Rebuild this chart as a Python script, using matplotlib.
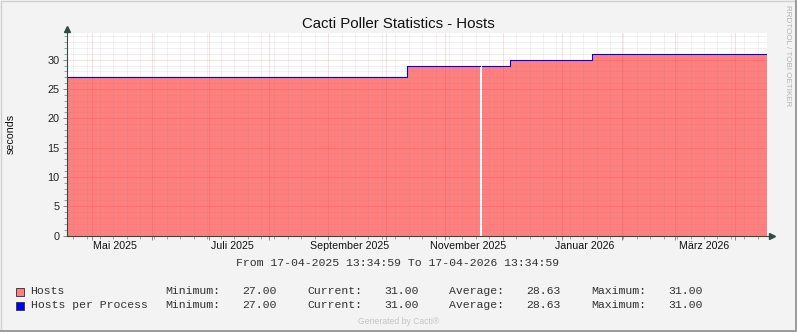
import numpy as np
import pandas as pd
import matplotlib
matplotlib.use("Agg")
import matplotlib.pyplot as plt
import matplotlib.dates as mdates
from matplotlib.patches import Rectangle
from matplotlib.ticker import MultipleLocator

# poller data, one value per interval between consecutive edges
edges = ["2025-04-17 13:34:59", "2025-10-12 00:00:00", "2025-11-19 00:00:00",
         "2025-11-20 00:00:00", "2025-12-04 21:00:00", "2026-01-16 14:00:00",
         "2026-04-17 13:34:59"]
hosts = [27, 29, np.nan, 29, 30, 31]
hosts_per_process = [27, 29, np.nan, 29, 30, 31]

yticks = [0, 5, 10, 15, 20, 25, 30]
month_labels = ["Mai 2025", "Juli 2025", "September 2025", "November 2025",
                "Januar 2026", "März 2026"]
month_label_dates = ["2025-05-13", "2025-07-13", "2025-09-12", "2025-11-13",
                     "2026-01-13", "2026-03-16"]

legend_names = ["Hosts", "Hosts per Process"]
legend_min = [27.00, 27.00]
legend_cur = [31.00, 31.00]
legend_avg = [28.63, 28.63]
legend_max = [31.00, 31.00]

W, H = 797, 332
BG = "#f3f3f3"
AREA = "#ff7f7f"
LINE = "#0000ff"
AXIS = "#2c4d44"
SANS = "Liberation Sans"
MONO = "Liberation Mono"

fig = plt.figure(figsize=(W / 100, H / 100), dpi=100, facecolor=BG)


def px(x, y):
    return x / W, 1 - y / H


left, right, top, bottom = 66.5, 766.5, 33.3, 235.5
ax = fig.add_axes([left / W, (H - bottom) / H, (right - left) / W, (bottom - top) / H])
ax.set_facecolor("white")

t = mdates.date2num(pd.to_datetime(edges, format="%Y-%m-%d %H:%M:%S"))
ax.stairs(hosts, t, baseline=0, fill=True, color=AREA, lw=0, zorder=1)
# outline of the second series as a post-step line (last value repeated at the end)
ax.plot(t, hosts_per_process + hosts_per_process[-1:], drawstyle="steps-post",
        color=LINE, lw=0.8, zorder=3)

ax.set_xlim(t[0], t[-1])
ax.set_ylim(0, 34.5)

ax.xaxis.set_major_locator(mdates.MonthLocator())
ax.xaxis.set_minor_locator(mdates.WeekdayLocator(byweekday=mdates.MO))
ax.yaxis.set_major_locator(MultipleLocator(5))
ax.yaxis.set_minor_locator(MultipleLocator(1))
ax.set_xticklabels([])
ax.set_yticks(yticks)
ax.set_yticklabels([str(v) for v in yticks], fontsize=7.8, family=SANS, color="#222222")

ax.grid(which="minor", color="#808080", alpha=0.22, lw=0.72, ls=(0, (1, 1)), zorder=2)
ax.grid(which="major", color="#e03030", alpha=0.3, lw=0.72, ls=(0, (1, 1)), zorder=2)
ax.set_axisbelow(False)

ax.tick_params(which="major", length=3, width=0.7, color="#8a8a8a", pad=2)
ax.tick_params(which="minor", length=2, width=0.7, color="#a0a0a0")
for s in ax.spines.values():
    s.set_visible(False)

# axes with arrow heads
ax.plot([0, 0], [0, 1.022], transform=ax.transAxes, color=AXIS, lw=0.8, clip_on=False, zorder=5)
ax.plot([0, 1.008], [0, 0], transform=ax.transAxes, color=AXIS, lw=0.8, clip_on=False, zorder=5)
ax.plot([0], [1.022], marker="^", ms=4, color=AXIS, transform=ax.transAxes, clip_on=False, zorder=6)
ax.plot([1.008], [0], marker=">", ms=4, color=AXIS, transform=ax.transAxes, clip_on=False, zorder=6)

lab_x = mdates.date2num(pd.to_datetime(month_label_dates))
for x, s in zip(lab_x, month_labels):
    ax.text(x, -13.5 / (bottom - top), s, transform=ax.get_xaxis_transform(),
            ha="center", va="baseline", fontsize=7.7, family=SANS, color="#111111")

fig.text(*px(398, 28.5), "Cacti Poller Statistics - Hosts", ha="center", va="baseline",
         fontsize=10.8, family=SANS, color="#111111")
fig.text(*px(11, 134), "seconds", rotation=90, ha="center", va="center",
         fontsize=7.7, family=SANS, color="#111111")
fig.text(*px(788, 56), "RRDTOOL / TOBI OETIKER", rotation=-90, ha="center", va="center",
         fontsize=5.8, family=SANS, color="#b4b4b4")

fig.text(*px(398, 266), "From 17-04-2025 13:34:59 To 17-04-2026 13:34:59",
         ha="center", va="baseline", fontsize=8.25, family=MONO, color="#333333")

colors = [AREA, LINE]
rows = [294, 308]
for i, name in enumerate(legend_names):
    yb = rows[i]
    fig.patches.append(Rectangle(px(15.5, yb + 2), 8 / W, 8 / H, transform=fig.transFigure,
                                 facecolor=colors[i], edgecolor="#404040", lw=0.7))
    cells = [(30.5, name), (165, "Minimum:"), (242, f"{legend_min[i]:.2f}"),
             (307, "Current:"), (384, f"{legend_cur[i]:.2f}"),
             (449, "Average:"), (526.5, f"{legend_avg[i]:.2f}"),
             (591, "Maximum:"), (668.5, f"{legend_max[i]:.2f}")]
    for x, s in cells:
        fig.text(*px(x, yb), s, ha="left", va="baseline", fontsize=8.25,
                 family=MONO, color="#333333")

fig.text(*px(399, 324), "Generated by Cacti®", ha="center", va="baseline",
         fontsize=6.2, family=SANS, color="#c4c4c4")

# outer frame
fig.add_artist(plt.Line2D([0.5 / W, 0.5 / W, 1], [0, 1 - 0.5 / H, 1 - 0.5 / H],
                          transform=fig.transFigure, color="#d0d0d0", lw=1))
fig.add_artist(plt.Line2D([0, 1 - 1 / W, 1 - 1 / W], [1.2 / H, 1.2 / H, 1],
                          transform=fig.transFigure, color="#9a9a9a", lw=1.4))

fig.savefig("out.png", dpi=100, facecolor=BG)
